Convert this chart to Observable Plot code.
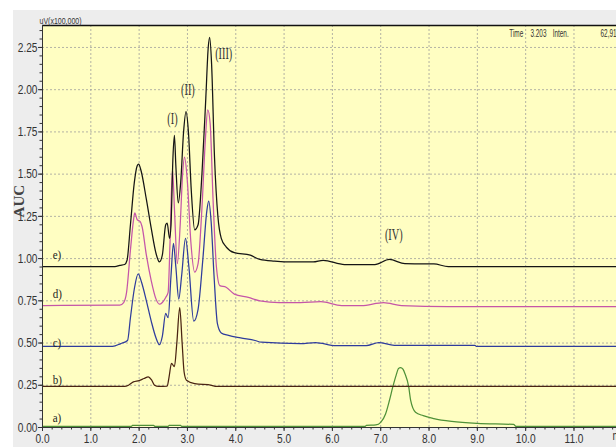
<!DOCTYPE html>
<html><head><meta charset="utf-8">
<script src="https://cdn.jsdelivr.net/npm/d3@7"></script>
<script src="https://cdn.jsdelivr.net/npm/@observablehq/plot@0.6"></script>
<style>
html,body{margin:0;padding:0;background:#fff;}
#chart{width:616px;height:447px;overflow:hidden;
background:linear-gradient(to bottom,#fff 0,#fff 10px,rgba(0,0,0,0) 10px),linear-gradient(to right,#fff 0,#fff 13px,#ededed 13px);}
</style></head><body><div id="chart"></div>
<script>
// ---- data: [time (min), signal (uV x100,000)] ----
const traceA = [[0,0.006],[1.84,0.006],[1.86,0.012],[2.3,0.012],[2.33,0.006],[2.6,0.006],[2.62,0.012],[2.86,0.012],[2.88,0.006],[6.68,0.006],[6.7,0.012],[6.9,0.015],[7.0,0.03],[7.1,0.08],[7.18,0.16],[7.25,0.24],[7.32,0.31],[7.37,0.35],[7.41,0.355],[7.46,0.345],[7.5,0.32],[7.58,0.24],[7.62,0.16],[7.72,0.09],[7.88,0.07],[8.1,0.053],[8.47,0.036],[9.0,0.024],[9.75,0.018],[9.8,0.006],[11.88,0.006]];
const traceB = [[0,0.243],[1.7,0.243],[1.78,0.25],[1.88,0.27],[2.0,0.278],[2.1,0.29],[2.19,0.30],[2.26,0.28],[2.32,0.25],[2.4,0.243],[2.58,0.245],[2.62,0.3],[2.67,0.38],[2.73,0.36],[2.78,0.5],[2.84,0.71],[2.89,0.5],[2.93,0.33],[2.98,0.28],[3.15,0.26],[3.5,0.25],[3.6,0.243],[11.88,0.243]];
const traceC = [[0,0.48],[1.45,0.48],[1.62,0.497],[1.76,0.515],[1.82,0.65],[1.9,0.82],[1.98,0.91],[2.05,0.86],[2.15,0.75],[2.25,0.63],[2.35,0.53],[2.42,0.49],[2.48,0.54],[2.55,0.675],[2.6,0.65],[2.66,0.9],[2.71,1.09],[2.76,0.95],[2.82,0.76],[2.88,0.9],[2.96,1.12],[3.03,0.95],[3.13,0.63],[3.22,0.7],[3.32,1.0],[3.4,1.28],[3.44,1.34],[3.49,1.22],[3.55,0.9],[3.62,0.615],[3.7,0.56],[3.85,0.545],[4.1,0.53],[4.4,0.515],[4.53,0.505],[5.34,0.497],[5.65,0.503],[6.07,0.485],[6.7,0.485],[6.96,0.503],[7.28,0.486],[8.95,0.486],[8.98,0.48],[11.88,0.48]];
const traceD = [[0,0.722],[1.6,0.725],[1.68,0.74],[1.74,0.8],[1.82,1.05],[1.88,1.22],[1.91,1.27],[1.96,1.23],[2.02,1.22],[2.06,1.19],[2.15,1.02],[2.25,0.87],[2.35,0.76],[2.42,0.73],[2.48,0.74],[2.55,0.77],[2.6,0.8],[2.64,1.1],[2.69,1.53],[2.73,1.3],[2.79,0.97],[2.85,1.2],[2.9,1.5],[2.94,1.6],[3.0,1.45],[3.07,1.1],[3.15,0.92],[3.22,0.97],[3.3,1.3],[3.37,1.7],[3.42,1.88],[3.47,1.8],[3.53,1.35],[3.6,0.95],[3.67,0.84],[3.8,0.83],[3.97,0.79],[4.26,0.77],[4.5,0.75],[4.9,0.74],[5.34,0.74],[5.76,0.745],[6.19,0.722],[6.6,0.722],[7.06,0.74],[7.43,0.722],[8.4,0.716],[11.88,0.716]];
const traceE = [[0,0.953],[1.5,0.953],[1.6,0.96],[1.7,0.965],[1.75,0.99],[1.82,1.2],[1.9,1.45],[1.96,1.55],[1.99,1.56],[2.04,1.52],[2.15,1.35],[2.25,1.18],[2.35,1.03],[2.42,0.98],[2.48,1.02],[2.55,1.2],[2.58,1.21],[2.63,1.12],[2.66,1.2],[2.7,1.6],[2.73,1.73],[2.76,1.55],[2.81,1.33],[2.86,1.45],[2.92,1.75],[2.97,1.87],[3.02,1.75],[3.08,1.4],[3.15,1.17],[3.22,1.2],[3.3,1.5],[3.38,1.95],[3.43,2.25],[3.46,2.31],[3.5,2.15],[3.56,1.6],[3.63,1.25],[3.7,1.12],[3.8,1.07],[3.97,1.035],[4.3,1.02],[4.5,0.995],[4.8,0.985],[5.2,0.98],[5.6,0.98],[5.81,0.99],[6.25,0.965],[6.88,0.965],[7.18,0.995],[7.5,0.97],[8.1,0.968],[8.4,0.953],[11.88,0.953]];

const traceColors = ["#4f9138", "#4a2412", "#2f3c9c", "#c556a8", "#151515"];
const traceNames = ["a)", "b)", "c)", "d)", "e)"];
const traceNameT = [0.21, 0.21, 0.21, 0.21, 0.21];
const traceNameV = [0.06, 0.28, 0.50, 0.79, 1.02];

const peakNames = ["(I)", "(II)", "(III)", "(IV)"];
const peakT = [2.69, 3.01, 3.75, 7.27];
const peakV = [1.83, 2.0, 2.21, 1.14];

const infoTexts = ["Time", "3.203", "Inten.", "62,914"];
const infoT = [9.66, 10.1, 10.56, 11.55];
const infoV = [2.33, 2.33, 2.33, 2.33];

const xMax = 11.88, yMax = 2.38;
const xMajor = d3.range(0, 12, 1);
const xMinor = d3.range(0, 11.9, 0.2);
const yMajor = d3.range(0, 2.26, 0.25);
const yMinor = d3.range(0, 2.38, 0.05);

const narrow = "'Liberation Sans Narrow','Arial Narrow','Liberation Sans',sans-serif";
const serif = "'Liberation Serif','Times New Roman',serif";

const lineMarks = [traceA, traceB, traceC, traceD, traceE].map((tr, i) =>
  Plot.line(tr, {x: d => d[0], y: d => d[1], stroke: traceColors[i], strokeWidth: 1.25, curve: "monotone-x"}));

const chart = Plot.plot({
  width: 616, height: 447,
  marginLeft: 42, marginRight: 0, marginTop: 25, marginBottom: 20,
  x: {domain: [0, xMax]},
  y: {domain: [0, yMax]},
  style: {background: "transparent", fontFamily: narrow, fontSize: "13px", color: "#333"},
  marks: [
    Plot.frame({fill: "#fffec2", stroke: null}),
    Plot.gridX(xMajor.slice(1), {stroke: "#9a9a9a", strokeOpacity: 0.75, strokeDasharray: "2,2"}),
    Plot.gridY(yMajor.slice(1), {stroke: "#9a9a9a", strokeOpacity: 0.75, strokeDasharray: "2,2"}),
    ...lineMarks,
    Plot.ruleY([yMax], {stroke: "#111", strokeWidth: 1.6}),
    Plot.ruleX([0], {stroke: "#333", strokeWidth: 1}),
    Plot.ruleY([0], {stroke: "#333", strokeWidth: 1}),
    Plot.axisY(yMinor, {tickSize: 2.5, tickFormat: () => "", label: null, stroke: "#333"}),
    Plot.axisX(xMinor, {tickSize: 2.5, tickFormat: () => "", label: null, stroke: "#333"}),
    Plot.axisY(yMajor, {tickSize: 4, tickPadding: 1, tickFormat: d => d.toFixed(2), label: null, stroke: "#333", fill: "#333"}),
    Plot.axisX(xMajor, {tickSize: 4, tickPadding: 2, tickFormat: d => d.toFixed(1), label: null, stroke: "#333", fill: "#333"}),
    Plot.text(traceNames, {x: (d, i) => traceNameT[i], y: (d, i) => traceNameV[i], text: d => d, textAnchor: "start", fontFamily: serif, fontSize: 13, fill: "#222"}),
    Plot.text(peakNames, {x: (d, i) => peakT[i], y: (d, i) => peakV[i], text: d => d, textAnchor: "middle", fontFamily: serif, fontSize: 16, fill: "#333"}),
    Plot.text(infoTexts, {x: (d, i) => infoT[i], y: (d, i) => infoV[i], text: d => d, textAnchor: "start", fontFamily: narrow, fontSize: 10, fill: "#333"}),
    Plot.text(["uV(x100,000)"], {frameAnchor: "top-left", dx: -3, dy: -8, textAnchor: "start", fontFamily: narrow, fontSize: 9, fill: "#333"}),
    Plot.text(["min"], {frameAnchor: "bottom-right", dx: -4, dy: 12, textAnchor: "start", fontFamily: narrow, fontSize: 13, fill: "#333"}),
    Plot.text(["AUC"], {x: () => 0, y: () => 1.34, dx: -23, rotate: -90, fontFamily: serif, fontSize: 15, fontWeight: "bold", fill: "#444"})
  ]
});
document.getElementById("chart").appendChild(chart);

// condense the lettering horizontally, as in the instrument printout
d3.select(chart).selectAll("text").each(function () {
  const t = this.textContent || "";
  const tr = this.getAttribute("transform") || "";
  if (tr.includes("rotate")) return;
  let s = 0.78;
  if (/^\(/.test(t)) s = 0.64;
  else if (/^[a-e]\)$/.test(t)) s = 0.85;
  else if (infoTexts.includes(t)) s = 0.64;
  const x = this.getAttribute("x");
  if (x !== null && !isNaN(+x)) this.setAttribute("x", (+x) / s);
  this.setAttribute("transform", `${tr} scale(${s},1)`.trim());
});
</script></body></html>
